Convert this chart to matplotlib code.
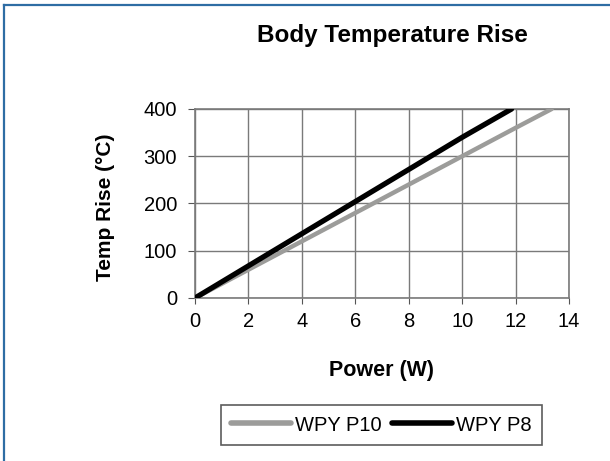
import matplotlib.pyplot as plt
from matplotlib.lines import Line2D

plt.rcParams['font.family'] = ['Liberation Sans', 'DejaVu Sans']

# values
power_p10 = [0, 2, 4, 6, 8, 10, 12, 13.35]
temp_p10 = [0, 60, 120, 180, 240, 300, 360, 400]
power_p8 = [0, 2, 4, 6, 8, 10, 11.85]
temp_p8 = [0, 68, 136, 204, 272, 340, 400]
x_ticks = [0, 2, 4, 6, 8, 10, 12, 14]
y_ticks = [0, 100, 200, 300, 400]

fig = plt.figure(figsize=(6.1, 4.61), dpi=100)
ax = fig.add_axes([0.3197, 0.3536, 0.6131, 0.41])

ax.plot(power_p10, temp_p10, color='#9c9c9a', lw=3.2, label='WPY P10',
        solid_capstyle='round', zorder=3)
ax.plot(power_p8, temp_p8, color='#000000', lw=3.8, label='WPY P8',
        solid_capstyle='round', zorder=4)

ax.set_xlim(0, 14)
ax.set_ylim(0, 400)
ax.set_xticks(x_ticks)
ax.set_yticks(y_ticks)
ax.grid(True, color='#7a7a7a', lw=1)
ax.set_axisbelow(True)
for s in ax.spines.values():
    s.set_color('#7a7a7a')
    s.set_linewidth(1.2)
ax.tick_params(axis='x', length=4.3, pad=6, color='#555555', labelsize=14.5)
ax.tick_params(axis='y', length=5, pad=8, color='#555555', labelsize=14.5)

fig.text(0.643, 0.924, 'Body Temperature Rise', ha='center', va='center',
         fontsize=17.5, fontweight='bold')
fig.text(0.626, 0.197, 'Power (W)', ha='center', va='center',
         fontsize=15.5, fontweight='bold')
fig.text(0.173, 0.55, 'Temp Rise (°C)', ha='center', va='center',
         rotation=90, fontsize=15, fontweight='bold')

leg = fig.legend(loc='center', bbox_to_anchor=(0.625, 0.078), ncol=2,
                 frameon=True, fancybox=False, fontsize=14.5, handlelength=3.0,
                 handletextpad=0.2, columnspacing=0.5, borderpad=0.5)
leg.get_frame().set_edgecolor('#333333')
leg.get_frame().set_linewidth(1.2)
for h in leg.get_lines():
    h.set_linewidth(4)

# blue frame along left and top edges
fig.add_artist(Line2D([3.5 / 610, 3.5 / 610], [0, 1 - 5 / 461],
                      transform=fig.transFigure, color='#2e6da4', lw=1.6))
fig.add_artist(Line2D([3.5 / 610, 1], [1 - 5 / 461, 1 - 5 / 461],
                      transform=fig.transFigure, color='#2e6da4', lw=1.6))

fig.savefig('out.png', dpi=100)
